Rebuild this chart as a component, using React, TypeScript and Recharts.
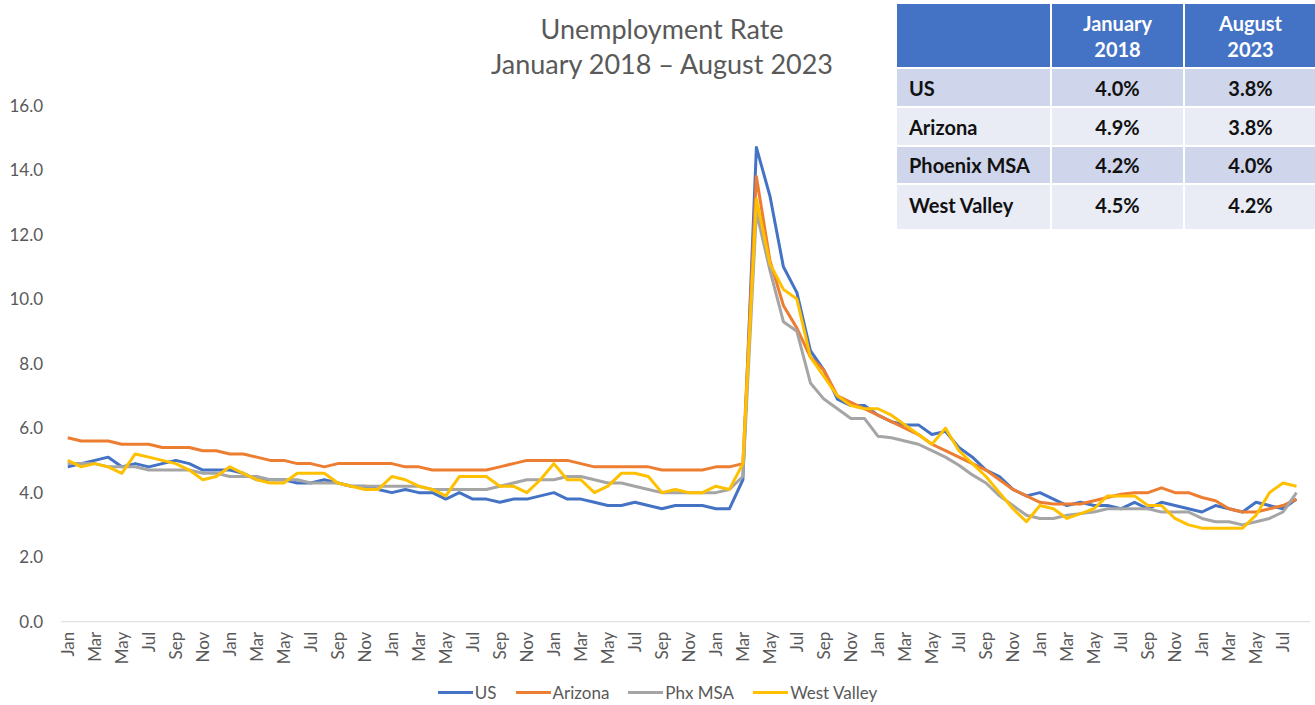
import React from 'react';
import { LineChart, Line, XAxis, YAxis, Legend } from 'recharts';

const MONTHS = ['Jan', 'Feb', 'Mar', 'Apr', 'May', 'Jun', 'Jul', 'Aug', 'Sep', 'Oct', 'Nov', 'Dec'];
const YEARS = [2016, 2017, 2018, 2019, 2020, 2021, 2022, 2023];
const LAST_MONTH_COUNT_2023 = 8;

const categories: string[] = [];
YEARS.forEach((y) => {
  const n = y === 2023 ? LAST_MONTH_COUNT_2023 : 12;
  for (let i = 0; i < n; i++) categories.push(MONTHS[i]);
});

const us = [
  4.8, 4.9, 5.0, 5.1, 4.8, 4.9, 4.8, 4.9, 5.0, 4.9, 4.7, 4.7,
  4.7, 4.6, 4.4, 4.4, 4.4, 4.3, 4.3, 4.4, 4.3, 4.2, 4.2, 4.1,
  4.0, 4.1, 4.0, 4.0, 3.8, 4.0, 3.8, 3.8, 3.7, 3.8, 3.8, 3.9,
  4.0, 3.8, 3.8, 3.7, 3.6, 3.6, 3.7, 3.6, 3.5, 3.6, 3.6, 3.6,
  3.5, 3.5, 4.4, 14.7, 13.2, 11.0, 10.2, 8.4, 7.8, 6.9, 6.7, 6.7,
  6.4, 6.2, 6.1, 6.1, 5.8, 5.9, 5.4, 5.1, 4.7, 4.5, 4.1, 3.9,
  4.0, 3.8, 3.6, 3.7, 3.6, 3.6, 3.5, 3.7, 3.5, 3.7, 3.6, 3.5,
  3.4, 3.6, 3.5, 3.4, 3.7, 3.6, 3.5, 3.8,
];

const arizona = [
  5.7, 5.6, 5.6, 5.6, 5.5, 5.5, 5.5, 5.4, 5.4, 5.4, 5.3, 5.3,
  5.2, 5.2, 5.1, 5.0, 5.0, 4.9, 4.9, 4.8, 4.9, 4.9, 4.9, 4.9,
  4.9, 4.8, 4.8, 4.7, 4.7, 4.7, 4.7, 4.7, 4.8, 4.9, 5.0, 5.0,
  5.0, 5.0, 4.9, 4.8, 4.8, 4.8, 4.8, 4.8, 4.7, 4.7, 4.7, 4.7,
  4.8, 4.8, 4.9, 13.8, 11.2, 9.8, 9.1, 8.2, 7.8, 7.0, 6.8, 6.6,
  6.4, 6.2, 6.0, 5.8, 5.5, 5.3, 5.1, 4.9, 4.7, 4.4, 4.1, 3.9,
  3.7, 3.65, 3.65, 3.65, 3.75, 3.85, 3.95, 4.0, 4.0, 4.15, 4.0, 4.0,
  3.85, 3.75, 3.5, 3.4, 3.4, 3.5, 3.6, 3.8,
];

const phxMsa = [
  4.9, 4.9, 4.9, 4.8, 4.8, 4.8, 4.7, 4.7, 4.7, 4.7, 4.6, 4.6,
  4.5, 4.5, 4.5, 4.4, 4.4, 4.4, 4.3, 4.3, 4.3, 4.2, 4.2, 4.2,
  4.2, 4.2, 4.2, 4.1, 4.1, 4.1, 4.1, 4.1, 4.2, 4.3, 4.4, 4.4,
  4.4, 4.5, 4.5, 4.4, 4.3, 4.3, 4.2, 4.1, 4.0, 4.0, 4.0, 4.0,
  4.0, 4.1, 4.5, 12.7, 10.9, 9.3, 9.0, 7.4, 6.9, 6.6, 6.3, 6.3,
  5.75, 5.7, 5.6, 5.5, 5.3, 5.1, 4.85, 4.55, 4.3, 3.9, 3.6, 3.3,
  3.2, 3.2, 3.3, 3.35, 3.4, 3.5, 3.5, 3.5, 3.5, 3.4, 3.4, 3.4,
  3.2, 3.1, 3.1, 3.0, 3.1, 3.2, 3.4, 4.0,
];

const westValley = [
  5.0, 4.8, 4.9, 4.8, 4.6, 5.2, 5.1, 5.0, 4.9, 4.7, 4.4, 4.5,
  4.8, 4.6, 4.4, 4.3, 4.3, 4.6, 4.6, 4.6, 4.3, 4.2, 4.1, 4.1,
  4.5, 4.4, 4.2, 4.1, 3.9, 4.5, 4.5, 4.5, 4.2, 4.2, 4.0, 4.4,
  4.9, 4.4, 4.4, 4.0, 4.2, 4.6, 4.6, 4.5, 4.0, 4.1, 4.0, 4.0,
  4.2, 4.1, 4.9, 13.1, 11.1, 10.3, 10.0, 8.2, 7.6, 7.0, 6.7, 6.6,
  6.6, 6.4, 6.1, 5.8, 5.5, 6.0, 5.3, 4.9, 4.5, 4.0, 3.5, 3.1,
  3.6, 3.5, 3.2, 3.35, 3.5, 3.9, 3.9, 3.9, 3.6, 3.6, 3.2, 3.0,
  2.9, 2.9, 2.9, 2.9, 3.3, 4.0, 4.3, 4.2,
];

const yTicks = [0, 2, 4, 6, 8, 10, 12, 14, 16];

const seriesNames = ['US', 'Arizona', 'Phx MSA', 'West Valley'];
const seriesKeys = ['us', 'arizona', 'phxMsa', 'westValley'];
const seriesColors = ['#4472C4', '#ED7D31', '#A5A5A5', '#FFC000'];

const titleLines = ['Unemployment Rate', 'January 2018 \u2013 August 2023'];

const tableHeaders = ['January\n2018', 'August\n2023'];
const tableRegions = ['US', 'Arizona', 'Phoenix MSA', 'West Valley'];
const tableJan2018 = ['4.0%', '4.9%', '4.2%', '4.5%'];
const tableAug2023 = ['3.8%', '3.8%', '4.0%', '4.2%'];

const data = categories.map((m, i) => ({
  idx: i,
  month: m,
  us: us[i],
  arizona: arizona[i],
  phxMsa: phxMsa[i],
  westValley: westValley[i],
}));

const xTicks = categories.map((_, i) => i).filter((i) => i % 2 === 0);

const FONT = 'Lato, "Open Sans", sans-serif';
const GRAY = '#595959';

const XTick = (props: any) => {
  const { x, y, payload } = props;
  const label = categories[Math.round(payload.value)] ?? '';
  return (
    <g transform={`translate(${x},${y})`}>
      <text
        transform="rotate(-90)"
        textAnchor="end"
        dy="0.36em"
        fill={GRAY}
        fontSize={17}
        fontFamily={FONT}
      >
        {label}
      </text>
    </g>
  );
};

const LegendContent = () => (
  <div
    style={{
      display: 'flex',
      justifyContent: 'center',
      alignItems: 'center',
      fontFamily: FONT,
      fontSize: 17,
      color: GRAY,
      width: '100%',
    }}
  >
    {seriesNames.map((n, i) => (
      <div key={n} style={{ display: 'flex', alignItems: 'center', marginRight: i < seriesNames.length - 1 ? 19 : 0 }}>
        <div style={{ width: 35, height: 3, background: seriesColors[i], marginRight: 2 }} />
        <span>{n}</span>
      </div>
    ))}
  </div>
);

const rowBg = ['#CFD5EA', '#E9EBF5', '#CFD5EA', '#E9EBF5'];
const rowHeights = [37, 37, 36, 44];

export default function App() {
  return (
    <div style={{ position: 'absolute', left: 0, top: 0, width: 1315, height: 705, background: '#fff', overflow: 'hidden' }}>
      <LineChart
        width={1315}
        height={705}
        data={data}
        margin={{ top: 105.5, right: 5, bottom: 23.3, left: 0 }}
      >
        <XAxis
          dataKey="idx"
          type="number"
          domain={[-0.5, categories.length - 0.5]}
          ticks={xTicks}
          interval={0}
          tick={<XTick />}
          tickLine={false}
          axisLine={{ stroke: '#D9D9D9', strokeWidth: 1 }}
          height={60}
          tickMargin={4}
          allowDecimals={false}
        />
        <YAxis
          type="number"
          domain={[0, 16]}
          ticks={yTicks}
          tickFormatter={(v: number) => v.toFixed(1)}
          axisLine={false}
          tickLine={false}
          width={61}
          tickMargin={12}
          tick={{ fill: GRAY, fontSize: 17, fontFamily: FONT }}
          interval={0}
        />
        {seriesKeys.map((k, i) => (
          <Line
            key={k}
            dataKey={k}
            name={seriesNames[i]}
            type="linear"
            stroke={seriesColors[i]}
            strokeWidth={3}
            strokeLinejoin="round"
            dot={false}
            activeDot={false}
            isAnimationActive={false}
          />
        ))}
        <Legend
          layout="horizontal"
          verticalAlign="middle"
          align="center"
          content={<LegendContent />}
          wrapperStyle={{ position: 'absolute', top: 682, left: 0, width: 1315, height: 22 }}
        />
      </LineChart>

      <div
        style={{
          position: 'absolute',
          left: 300,
          top: 11,
          width: 724,
          textAlign: 'center',
          fontFamily: FONT,
          fontSize: 27,
          lineHeight: '35px',
          color: GRAY,
        }}
      >
        {titleLines.map((t) => (
          <div key={t}>{t}</div>
        ))}
      </div>

      <div
        style={{
          position: 'absolute',
          left: 897,
          top: 4,
          width: 419,
          display: 'grid',
          gridTemplateColumns: '153px 131px 131px',
          gridTemplateRows: `63px ${rowHeights.map((h) => h + 'px').join(' ')}`,
          gap: 2,
          background: '#fff',
          fontFamily: FONT,
          fontSize: 20,
          fontWeight: 700,
        }}
      >
        <div style={{ background: '#4472C4' }} />
        {tableHeaders.map((h) => (
          <div
            key={h}
            style={{
              background: '#4472C4',
              color: '#fff',
              display: 'flex',
              alignItems: 'center',
              justifyContent: 'center',
              textAlign: 'center',
              whiteSpace: 'pre-line',
              lineHeight: '26px',
            }}
          >
            {h}
          </div>
        ))}
        {tableRegions.map((r, i) => (
          <React.Fragment key={r}>
            <div style={{ background: rowBg[i], color: '#111', display: 'flex', alignItems: i === 3 ? 'flex-start' : 'center', paddingTop: i === 3 ? 8 : 0, paddingLeft: 12 }}>
              {r}
            </div>
            <div style={{ background: rowBg[i], color: '#111', display: 'flex', alignItems: i === 3 ? 'flex-start' : 'center', paddingTop: i === 3 ? 8 : 0, justifyContent: 'center' }}>
              {tableJan2018[i]}
            </div>
            <div style={{ background: rowBg[i], color: '#111', display: 'flex', alignItems: i === 3 ? 'flex-start' : 'center', paddingTop: i === 3 ? 8 : 0, justifyContent: 'center' }}>
              {tableAug2023[i]}
            </div>
          </React.Fragment>
        ))}
      </div>
    </div>
  );
}
